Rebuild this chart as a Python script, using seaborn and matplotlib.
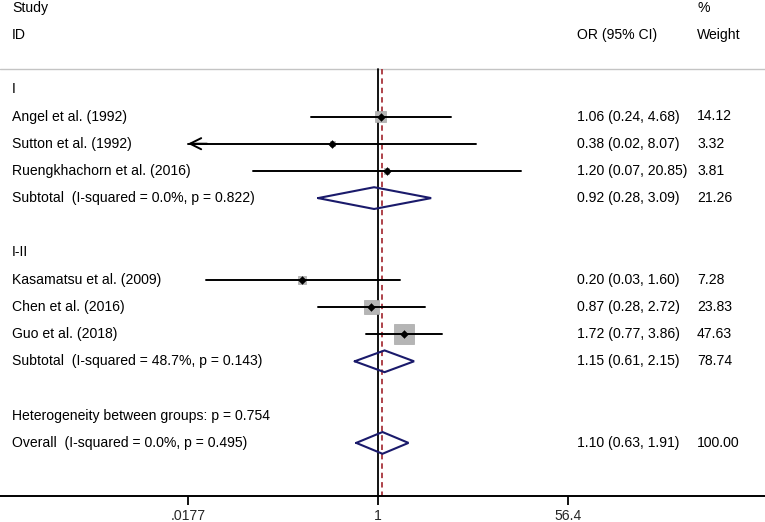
import numpy as np
import pandas as pd
import matplotlib
matplotlib.use("Agg")
import matplotlib.pyplot as plt
import seaborn as sns

# ---------------- data ----------------
studies = ["Angel et al. (1992)", "Sutton et al. (1992)", "Ruengkhachorn et al. (2016)",
           "Kasamatsu et al. (2009)", "Chen et al. (2016)", "Guo et al. (2018)"]
groups = ["I", "I", "I", "I-II", "I-II", "I-II"]
or_vals = [1.06, 0.38, 1.20, 0.20, 0.87, 1.72]
ci_low = [0.241, 0.0177, 0.07, 0.026, 0.28, 0.77]
ci_high = [4.68, 8.07, 20.85, 1.60, 2.72, 3.86]
weights = [14.12, 3.32, 3.81, 7.28, 23.83, 47.63]

group_names = ["I", "I-II"]
sub_labels = ["Subtotal  (I-squared = 0.0%, p = 0.822)",
              "Subtotal  (I-squared = 48.7%, p = 0.143)"]
sub_or = [0.92, 1.15]
sub_low = [0.28, 0.61]
sub_high = [3.09, 2.15]
sub_weight = [21.26, 78.74]

het_label = "Heterogeneity between groups: p = 0.754"
overall_label = "Overall  (I-squared = 0.0%, p = 0.495)"
overall_or = 1.10
overall_low = 0.63
overall_high = 1.91
overall_weight = 100.00

tick_vals = [0.0177, 1, 56.4]
tick_labels = [".0177", "1", "56.4"]

# ---------------- style ----------------
sns.set_style("white")
plt.rcParams["font.family"] = ["Liberation Sans", "DejaVu Sans"]
FS = 10.1

W, H = 765, 522
fig = plt.figure(figsize=(W / 100, H / 100), dpi=100)
ax_bottom_px = 496
ax = fig.add_axes([0, (H - ax_bottom_px) / H, 1, ax_bottom_px / H])

# x log scale: 1 at 378 px, 108.5 px per decade
px_per_dec = 108.5
x0 = 378
ax.set_xscale("log")
ax.set_xlim(10 ** ((0 - x0) / px_per_dec), 10 ** ((W - x0) / px_per_dec))
# y rows: row 0 at 116.5 px, 27.2 px per row
y0, dy = 116.5, 27.2
ax.set_ylim((ax_bottom_px - y0) / dy, (0 - y0) / dy)

# row layout
study_rows = [0, 1, 2, 6, 7, 8]
group_rows = [-1, 5]
sub_rows = [3, 9]
het_row = 11
overall_row = 12
grey_row = (69 - y0) / dy

df = pd.DataFrame({"study": studies, "group": groups, "OR": or_vals, "low": ci_low,
                   "high": ci_high, "weight": weights, "row": study_rows})

# reference lines
top_line = grey_row
ax.plot([1, 1], [top_line, ax.get_ylim()[0]], color="black", lw=1.3, zorder=2)
ax.plot([overall_or, overall_or], [top_line, ax.get_ylim()[0]], color="#a8343c",
        lw=1.3, ls=(0, (3, 2.2)), zorder=2)
ax.axhline(grey_row, color="#c4c4c4", lw=1.0, zorder=1)

# weight boxes
sns.scatterplot(data=df, x="OR", y="row", size="weight", sizes=(min(weights) * 4.35, max(weights) * 4.35),
                size_norm=(min(weights), max(weights)), marker="s", color="#b5b5b5",
                edgecolor="#a8a8a8", linewidth=0.5, legend=False, ax=ax, zorder=3)

# CI lines
xmin_tick = tick_vals[0]
for _, r in df.iterrows():
    if r["low"] <= xmin_tick * 1.001:
        ax.plot([xmin_tick, r["high"]], [r["row"], r["row"]], color="black", lw=1.4, zorder=4)
        ax.annotate("", xy=(xmin_tick, r["row"]), xytext=(xmin_tick * 1.5, r["row"]),
                    arrowprops=dict(arrowstyle="->", lw=1.4, color="black", mutation_scale=20,
                                    shrinkA=0, shrinkB=0), zorder=4)
    else:
        ax.plot([r["low"], r["high"]], [r["row"], r["row"]], color="black", lw=1.4, zorder=4)

# point estimates
sns.scatterplot(data=df, x="OR", y="row", marker="D", s=16, color="black", edgecolor="black",
                linewidth=0.3, legend=False, ax=ax, zorder=5)

# diamonds
def diamond(o, lo, hi, row):
    h = 0.4
    xs = [lo, o, hi, o, lo]
    ys = [row, row - h, row, row + h, row]
    ax.plot(xs, ys, color="#1a1a6b", lw=1.5, zorder=6, solid_joinstyle="miter")

for o, lo, hi, row in zip(sub_or, sub_low, sub_high, sub_rows):
    diamond(o, lo, hi, row)
diamond(overall_or, overall_low, overall_high, overall_row)

# text columns
tr = ax.get_yaxis_transform()  # x in axes fraction, y in data
xl = 12 / W
xor_ = 577 / W
xw = 697 / W

def txt(x, y, s):
    ax.text(x, y, s, transform=tr, ha="left", va="center", fontsize=FS, color="black")

txt(xl, (8 - y0) / dy, "Study")
txt(xl, (35 - y0) / dy, "ID")
txt(xor_, (35 - y0) / dy, "OR (95% CI)")
txt(xw, (8 - y0) / dy, "%")
txt(xw, (35 - y0) / dy, "Weight")

for g, row in zip(group_names, group_rows):
    txt(xl, row, g)
for _, r in df.iterrows():
    txt(xl, r["row"], r["study"])
    txt(xor_, r["row"], f"{r['OR']:.2f} ({r['low']:.2f}, {r['high']:.2f})")
    txt(xw, r["row"], f"{r['weight']:.2f}")
for lab, o, lo, hi, w, row in zip(sub_labels, sub_or, sub_low, sub_high, sub_weight, sub_rows):
    txt(xl, row, lab)
    txt(xor_, row, f"{o:.2f} ({lo:.2f}, {hi:.2f})")
    txt(xw, row, f"{w:.2f}")
txt(xl, het_row, het_label)
txt(xl, overall_row, overall_label)
txt(xor_, overall_row, f"{overall_or:.2f} ({overall_low:.2f}, {overall_high:.2f})")
txt(xw, overall_row, f"{overall_weight:.2f}")

# axes styling
for s in ["top", "left", "right"]:
    ax.spines[s].set_visible(False)
ax.spines["bottom"].set_color("black")
ax.spines["bottom"].set_linewidth(1.4)
ax.set_yticks([])
ax.set_xticks(tick_vals)
ax.set_xticklabels(tick_labels, fontsize=FS)
ax.xaxis.set_minor_locator(matplotlib.ticker.NullLocator())
ax.tick_params(axis="x", direction="out", length=6.5, width=1.3, color="black", pad=2.5, bottom=True)
ax.set_xlabel("")
ax.set_ylabel("")

fig.savefig("out.png", dpi=100)
